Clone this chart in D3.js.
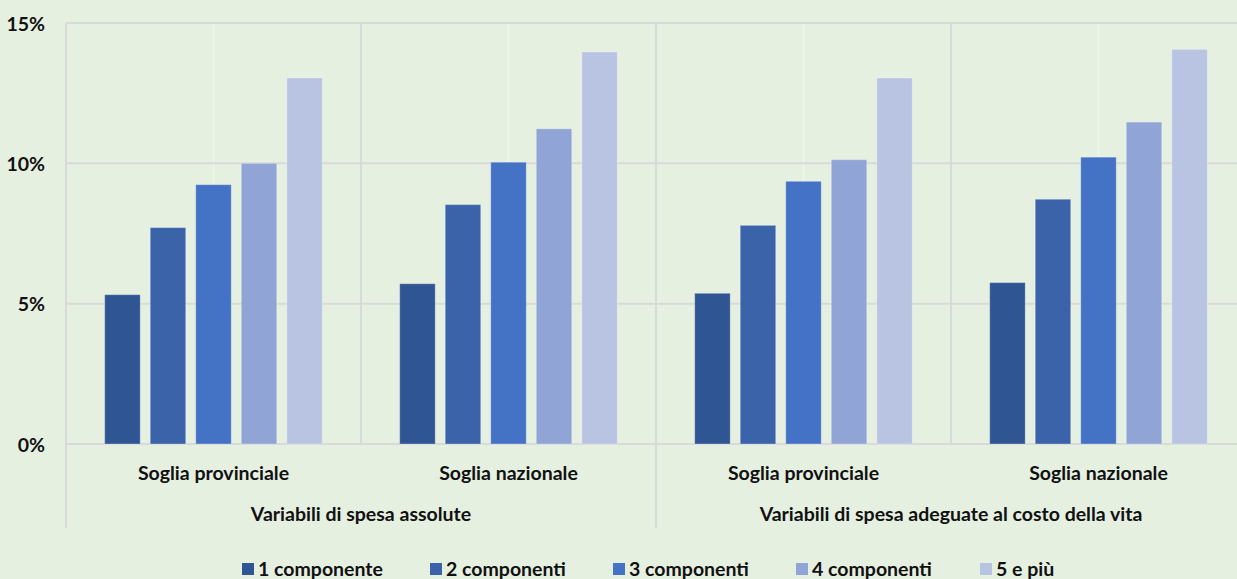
<!DOCTYPE html>
<html>
<head>
<meta charset="utf-8">
<script src="https://cdn.jsdelivr.net/npm/d3@7"></script>
<style>
  html, body { margin: 0; padding: 0; background: #E6F0E1; }
  svg { display: block; }
  text { font-family: Lato, "Open Sans", sans-serif; font-weight: bold; fill: #111; }
</style>
</head>
<body>
<svg id="chart" width="1237" height="579"></svg>
<script>
// Two expense definitions, each measured against two poverty thresholds
const outerCategories = ["Variabili di spesa assolute", "Variabili di spesa adeguate al costo della vita"];
const innerCategories = ["Soglia provinciale", "Soglia nazionale"];
const seriesNames = ["1 componente", "2 componenti", "3 componenti", "4 componenti", "5 e più"];
const seriesColors = ["#305593", "#3A63A9", "#4473C5", "#90A4D5", "#B9C3E2"];
const yTicks = [0, 0.05, 0.10, 0.15];

// Share per household size, in the order: assolute/provinciale, assolute/nazionale,
// adeguate/provinciale, adeguate/nazionale
const oneMember    = [0.0532, 0.0571, 0.0537, 0.0575];
const twoMembers   = [0.0771, 0.0853, 0.0779, 0.0872];
const threeMembers = [0.0924, 0.1004, 0.0936, 0.1022];
const fourMembers  = [0.1000, 0.1123, 0.1013, 0.1147];
const fivePlus     = [0.1304, 0.1397, 0.1304, 0.1406];
const seriesValues = [oneMember, twoMembers, threeMembers, fourMembers, fivePlus];

(function draw() {
  const svg = d3.select("#chart");
  const plotLeft = 66, plotTop = 23, plotBottom = 444, plotRight = 1237;
  const groupWidth = 295;
  const labelSize = 19.5;

  const groups = [];
  outerCategories.forEach((o, oi) => innerCategories.forEach((c, ci) => groups.push({ outer: o, inner: c, idx: oi * 2 + ci })));

  const x0 = d3.scaleBand().domain(groups.map(g => g.idx)).range([plotLeft, plotLeft + groupWidth * groups.length]).padding(0);
  const x1 = d3.scaleBand().domain(seriesNames).range([0, x0.bandwidth()]).paddingInner(0.22).paddingOuter(0.85);
  const y = d3.scaleLinear().domain([0, 0.15]).range([plotBottom, plotTop]);

  const gridColor = "#D9D9D9";

  // light mid-category lines
  svg.append("g").selectAll("line").data(groups).join("line")
    .attr("x1", g => x0(g.idx) + x0.bandwidth() / 2).attr("x2", g => x0(g.idx) + x0.bandwidth() / 2)
    .attr("y1", plotTop).attr("y2", plotBottom)
    .attr("stroke", "#F1F4EF").attr("stroke-width", 1.5);

  // horizontal gridlines
  svg.append("g").selectAll("line").data(yTicks).join("line")
    .attr("x1", plotLeft).attr("x2", plotRight)
    .attr("y1", d => y(d)).attr("y2", d => y(d))
    .attr("stroke", gridColor).attr("stroke-width", 2);

  // category separators: inner ones stop at the axis, outer ones run through the labels
  svg.append("g").selectAll("line").data(d3.range(groups.length + 1)).join("line")
    .attr("x1", i => plotLeft + i * x0.step()).attr("x2", i => plotLeft + i * x0.step())
    .attr("y1", plotTop)
    .attr("y2", i => (i % 2 === 0 ? 528 : plotBottom))
    .attr("stroke", gridColor).attr("stroke-width", 2);

  // bars
  const gBars = svg.append("g");
  seriesNames.forEach((name, si) => {
    gBars.append("g").selectAll("rect").data(groups).join("rect")
      .attr("x", g => x0(g.idx) + x1(name))
      .attr("width", x1.bandwidth())
      .attr("y", g => y(seriesValues[si][g.idx]))
      .attr("height", g => y(0) - y(seriesValues[si][g.idx]))
      .attr("fill", seriesColors[si])
      .attr("stroke", "rgba(255,255,255,0.3)")
      .attr("stroke-width", 1);
  });

  // y axis labels
  const yAxis = d3.axisLeft(y).tickValues(yTicks).tickFormat(d3.format(".0%")).tickSize(0).tickPadding(0);
  const yg = svg.append("g").attr("transform", "translate(45,0)").call(yAxis);
  yg.select(".domain").remove();
  yg.selectAll("text").attr("font-size", labelSize).attr("dy", "0.36em")
    .style("font-family", "Lato, 'Open Sans', sans-serif").style("font-weight", "bold").attr("fill", "#111");

  // inner category labels
  svg.append("g").selectAll("text").data(groups).join("text")
    .attr("x", g => x0(g.idx) + x0.bandwidth() / 2)
    .attr("y", 479.5)
    .attr("text-anchor", "middle").attr("font-size", labelSize)
    .text(g => g.inner);

  // outer category labels
  svg.append("g").selectAll("text").data(outerCategories).join("text")
    .attr("x", (o, i) => plotLeft + (i * 2 + 1) * x0.step())
    .attr("y", 521)
    .attr("text-anchor", "middle").attr("font-size", labelSize)
    .text(o => o);

  // legend
  const legendX = [242, 430, 613, 796, 980];
  const lg = svg.append("g").selectAll("g").data(seriesNames).join("g")
    .attr("transform", (d, i) => `translate(${legendX[i]},563)`);
  lg.append("rect").attr("width", 12).attr("height", 12).attr("fill", (d, i) => seriesColors[i]);
  lg.append("text").attr("x", 16).attr("y", 13).attr("font-size", labelSize).text(d => d);
})();
</script>
</body>
</html>
